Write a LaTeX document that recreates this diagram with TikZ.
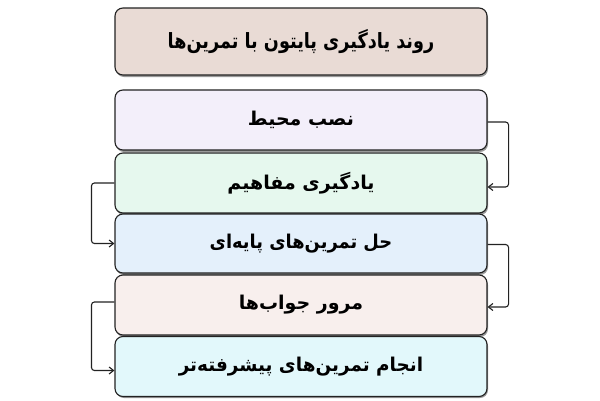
\documentclass[tikz,border=0pt]{standalone}
\usepackage{fontspec}
\usepackage{graphicx}
\newfontfamily\arabicfont[Script=Arabic]{DejaVu Sans}
\TeXXeTstate=1
\usetikzlibrary{arrows.meta}
\definecolor{titlefill}{HTML}{E9DBD5}
\definecolor{fa}{HTML}{F3EFFA}
\definecolor{fb}{HTML}{E6F8EE}
\definecolor{fc}{HTML}{E4F0FB}
\definecolor{fd}{HTML}{F8EFED}
\definecolor{fe}{HTML}{E2F8FB}
\definecolor{edge}{HTML}{222222}
\tikzset{
  box/.style={draw=edge, line width=1.1pt, rounded corners=8pt, minimum width=372pt, minimum height=60pt, inner sep=0pt, font=\arabicfont\bfseries\fontsize{19}{22}\selectfont},
  conn/.style={draw=edge, line width=1.1pt, rounded corners=3pt, -{Straight Barb[length=4.5pt,width=7pt]}},
  shadowbox/.style={fill=black!40, rounded corners=8pt, draw=none}
}
\begin{document}
\begin{tikzpicture}[x=1pt,y=-1pt]
\useasboundingbox[fill=white] (0,0) rectangle (600,400);
% shadows
\fill[shadowbox] (116,10) rectangle (488,77);
\fill[shadowbox] (116,92) rectangle (488,152);
\fill[shadowbox] (116,155) rectangle (488,215);
\fill[shadowbox] (116,216) rectangle (488,275);
\fill[shadowbox] (116,277) rectangle (488,337);
\fill[shadowbox] (116,338) rectangle (488,398);
\node[box, fill=titlefill, minimum height=67pt, font=\arabicfont\bfseries\fontsize{21}{24}\selectfont] (t) at (301,41.5) {\scalebox{0.84}[1]{\beginR روند یادگیری پایتون با تمرین‌ها\endR}};
\node[box, fill=fa] (b1) at (301,120) {\beginR نصب محیط\endR};
\node[box, fill=fb] (b2) at (301,183) {\beginR یادگیری مفاهیم\endR};
\node[box, fill=fc, minimum height=59pt] (b3) at (301,243.5) {\scalebox{0.94}[1]{\beginR حل تمرین‌های پایه‌ای\endR}};
\node[box, fill=fd] (b4) at (301,305) {\beginR مرور جواب‌ها\endR};
\node[box, fill=fe] (b5) at (301,366.5) {\scalebox{0.97}[1]{\beginR انجام تمرین‌های پیشرفته‌تر\endR}};
\draw[conn] ([yshift=-2pt]b1.east) -- ++(21,0) |- ([yshift=-4pt]b2.east);
\draw[conn] (b2.west) -- ++(-23,0) |- (b3.west);
\draw[conn] ([yshift=-1pt]b3.east) -- ++(21,0) |- ([yshift=-2pt]b4.east);
\draw[conn] ([yshift=3pt]b4.west) -- ++(-23,0) |- ([yshift=-4pt]b5.west);
\end{tikzpicture}
\end{document}
